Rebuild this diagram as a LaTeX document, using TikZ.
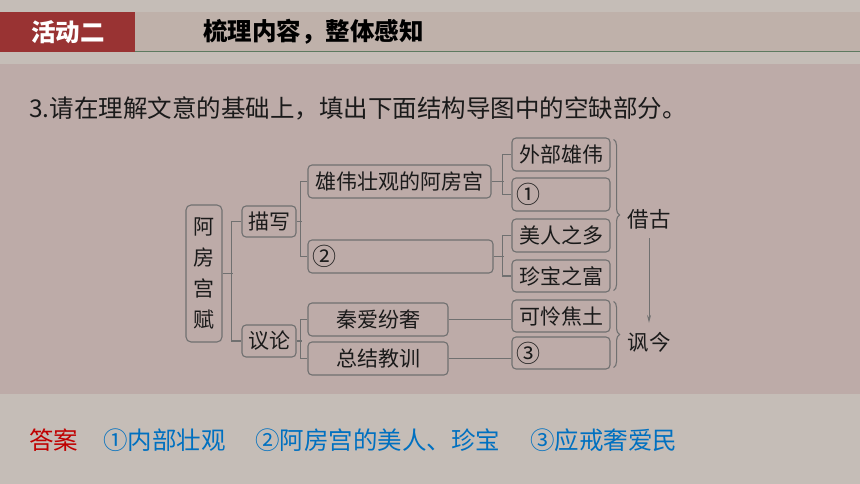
\documentclass[tikz,border=0pt]{standalone}
\usepackage{fontspec}
\usepackage{xcolor}
\usepackage{tikz}
\usetikzlibrary{decorations.pathreplacing,arrows.meta}
\newfontfamily\cjk{Noto Sans CJK SC}
\definecolor{pagebg}{HTML}{C5BDB7}
\definecolor{bandbg}{HTML}{BFB1AA}
\definecolor{panelbg}{HTML}{BDABA8}
\definecolor{headred}{HTML}{993333}
\definecolor{rulegreen}{HTML}{5E7A60}
\definecolor{linegray}{HTML}{707070}
\definecolor{inkcol}{HTML}{1A1A1A}
\definecolor{ansred}{HTML}{C00000}
\definecolor{ansblue}{HTML}{0070C0}

\begin{document}
\begin{tikzpicture}[x=1pt,y=-1pt,
  box/.style={draw=linegray,line width=1.1pt,rounded corners=4pt,inner sep=0pt,minimum height=33pt,font=\cjk\fontsize{21}{21}\selectfont,text=inkcol},
  slot/.style={box,text width=#1,inner xsep=4pt,align=left,font=\cjk\fontsize{24}{24}\selectfont},
  link/.style={draw=linegray,line width=1.1pt},
  big/.style={font=\cjk\fontsize{24.5}{24.5}\selectfont}]
\useasboundingbox (0,0) rectangle (860,484);
\fill[pagebg] (0,0) rectangle (860,484);
\fill[bandbg] (135,12) rectangle (860,52);
\fill[headred] (0,12) rectangle (135,52);
\draw[rulegreen,line width=1pt] (135,52) -- (860,52);
\fill[panelbg] (0,64) rectangle (860,394);

\node[big,text=white,font=\cjk\bfseries\fontsize{24.5}{24.5}\selectfont] (act) at (68,32) {活动二};
\node[big,anchor=west,inner sep=0pt,font=\cjk\bfseries\fontsize{24.5}{24.5}\selectfont] (title) at (203,32) {梳理内容，整体感知};
\node[big,anchor=west,inner sep=0pt,text=inkcol] (task) at (29,108) {3.请在理解文意的基础上，填出下面结构导图中的空缺部分。};

\node[box,rounded corners=5pt,minimum width=36pt,minimum height=137pt,align=center,font=\cjk\fontsize{21}{31}\selectfont] (fu) at (204,273.5) {阿\\房\\宫\\赋};
\node[box,minimum width=54pt,minimum height=31pt] (miao) at (269,221.5) {描写};
\node[box,minimum width=54pt,minimum height=32pt] (yi) at (269,341) {议论};
\node[box,minimum width=183pt] (xw) at (399.5,181.5) {雄伟壮观的阿房宫};
\node[slot=177pt] (two) at (400.5,256.5) {②};
\node[box,minimum width=140pt] (qin) at (378,319.5) {秦爱纷奢};
\node[box,minimum width=140pt] (zj) at (378,358.5) {总结教训};
\node[box,minimum width=98pt] (wb) at (561,154.5) {外部雄伟};
\node[slot=90pt] (one) at (561,194.5) {①};
\node[box,minimum width=98pt] (mr) at (561,235.5) {美人之多};
\node[box,minimum width=98pt,minimum height=32pt] (zb) at (561,276) {珍宝之富};
\node[box,minimum width=98pt,minimum height=32pt] (kl) at (561,316) {可怜焦土};
\node[slot=90pt,minimum height=32pt] (three) at (561,353) {③};

\draw[link] (miao.west) -- ++(-10,0) |- (yi.west);
\draw[link] (fu.east) -- ++(10,0);
\draw[link] (xw.west) -- ++(-7,0) |- (two.west);
\draw[link] (miao.east) -- ++(5,0);
\draw[link] (qin.west) -- ++(-7,0) |- (zj.west);
\draw[link] (yi.east) -- ++(5,0);
\draw[link] (wb.west) -- ++(-9,0) |- (one.west);
\draw[link] (xw.east) -- ++(12,0);
\draw[link] (mr.west) -- ++(-9,0) |- (zb.west);
\draw[link] (two.east) -- ++(10,0);
\draw[link] (qin.east) -- (qin.east -| kl.west);
\draw[link] (zj.east) -- (zj.east -| three.west);

\draw[link,decorate,decoration={brace,amplitude=6pt}] ([xshift=3pt,yshift=-2pt]wb.north east) -- ([xshift=3pt,yshift=2pt]zb.south east);
\draw[link,decorate,decoration={brace,amplitude=6pt}] ([xshift=3pt,yshift=-2pt]kl.north east) -- ([xshift=3pt,yshift=2pt]three.south east);

\node[box,draw=none,font=\cjk\fontsize{21.5}{21.5}\selectfont] (jg) at (649,219) {借古};
\node[box,draw=none,font=\cjk\fontsize{21.5}{21.5}\selectfont] (fj) at (649,342) {讽今};
\draw[link,line width=1pt,-{Stealth[length=8pt,width=4pt]}] ([yshift=-2pt]jg.south) -- ([yshift=2pt]fj.north);

\node[big,anchor=west,inner sep=0pt,text=ansred] (ans) at (29,440) {答案};
\node[big,anchor=west,inner sep=0pt,text=ansblue] (a1) at (103,440) {①内部壮观};
\node[big,anchor=west,inner sep=0pt,text=ansblue] (a2) at (255,440) {②阿房宫的美人、珍宝};
\node[big,anchor=west,inner sep=0pt,text=ansblue] (a3) at (530,440) {③应戒奢爱民};
\end{tikzpicture}
\end{document}
